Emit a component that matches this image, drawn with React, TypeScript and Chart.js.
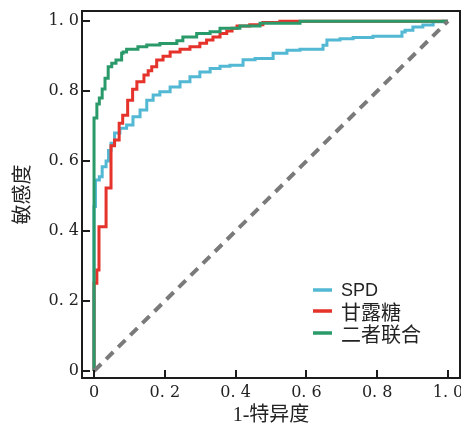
import React, { useEffect, useRef } from "react";
import { Chart, registerables } from "chart.js";

Chart.register(...registerables);

// ---- data ----
const seriesNames = ["SPD", "甘露糖", "二者联合"];
const seriesColors = ["#52B8D3", "#E5322A", "#2A9A6A"];

const fprSPD = [0, 0, 0.004, 0.015, 0.023, 0.034, 0.041, 0.048, 0.058, 0.073, 0.092, 0.11, 0.13, 0.149, 0.167, 0.186, 0.215, 0.243, 0.271, 0.299, 0.328, 0.356, 0.384, 0.421, 0.455, 0.506, 0.545, 0.582, 0.647, 0.658, 0.695, 0.732, 0.788, 0.87, 0.879, 0.901, 0.929, 0.958, 0.986, 1.0];
const tprSPD = [0, 0.42, 0.47, 0.546, 0.555, 0.584, 0.6, 0.63, 0.651, 0.68, 0.694, 0.703, 0.727, 0.746, 0.774, 0.789, 0.798, 0.812, 0.827, 0.841, 0.855, 0.865, 0.871, 0.874, 0.89, 0.893, 0.908, 0.917, 0.92, 0.931, 0.946, 0.95, 0.953, 0.957, 0.969, 0.974, 0.983, 0.989, 0.998, 1.0];

const fprMannose = [0, 0, 0.008, 0.014, 0.034, 0.048, 0.058, 0.071, 0.081, 0.095, 0.109, 0.121, 0.141, 0.153, 0.163, 0.177, 0.195, 0.215, 0.243, 0.271, 0.299, 0.318, 0.336, 0.356, 0.375, 0.39, 0.404, 0.44, 0.477, 0.525, 1.0];
const tprMannose = [0, 0.223, 0.251, 0.289, 0.412, 0.523, 0.644, 0.66, 0.708, 0.731, 0.774, 0.805, 0.827, 0.846, 0.858, 0.87, 0.889, 0.9, 0.912, 0.92, 0.927, 0.937, 0.946, 0.955, 0.965, 0.972, 0.98, 0.986, 0.99, 0.996, 1.0];

const fprCombined = [0, 0, 0.008, 0.015, 0.023, 0.031, 0.04, 0.05, 0.062, 0.078, 0.082, 0.092, 0.124, 0.149, 0.186, 0.234, 0.251, 0.29, 0.328, 0.356, 0.412, 0.469, 0.582, 0.695, 1.0];
const tprCombined = [0, 0.694, 0.723, 0.763, 0.78, 0.806, 0.837, 0.87, 0.88, 0.889, 0.908, 0.912, 0.92, 0.927, 0.932, 0.936, 0.944, 0.955, 0.965, 0.97, 0.98, 0.986, 0.994, 1.0, 1.0];

const refX = [0, 1];
const refY = [0, 1];

const tickValues = [0, 0.2, 0.4, 0.6, 0.8, 1.0];
const tickLabels = ["0", "0. 2", "0. 4", "0. 6", "0. 8", "1. 0"];

const xTitle = "1-特异度";
const yTitle = "敏感度";

const toPts = (xs: number[], ys: number[]) => xs.map((x, i) => ({ x, y: ys[i] }));

const framePlugin = {
  id: "frameTicksLegend",
  afterDatasetsDraw(chart: any) {
    const { ctx, chartArea } = chart;
    const { left, right, top, bottom } = chartArea;
    ctx.save();
    ctx.strokeStyle = "#1c1c1c";
    ctx.lineWidth = 2;
    ctx.strokeRect(left, top, right - left, bottom - top);
    // inward ticks
    const xs = chart.scales.x;
    const ys = chart.scales.y;
    ctx.beginPath();
    xs.ticks.forEach((t: any) => {
      const p = Math.round(xs.getPixelForValue(t.value));
      ctx.moveTo(p, bottom);
      ctx.lineTo(p, bottom - 8);
    });
    ys.ticks.forEach((t: any) => {
      const p = Math.round(ys.getPixelForValue(t.value));
      ctx.moveTo(left, p);
      ctx.lineTo(left + 8, p);
    });
    ctx.stroke();
    // legend
    const lx = right - 147;
    const rowY = [bottom - 88, bottom - 67, bottom - 45];
    seriesNames.forEach((name, i) => {
      ctx.strokeStyle = seriesColors[i];
      ctx.lineWidth = 3.5;
      ctx.beginPath();
      ctx.moveTo(lx, rowY[i]);
      ctx.lineTo(lx + 19, rowY[i]);
      ctx.stroke();
      ctx.fillStyle = "#222";
      ctx.textBaseline = "middle";
      ctx.textAlign = "left";
      ctx.font = i === 0
        ? '18px "Liberation Sans Narrow", "Liberation Sans", sans-serif'
        : '20px "Noto Sans CJK SC", sans-serif';
      ctx.fillText(name, lx + 28, rowY[i] + 1);
    });
    ctx.restore();
  },
};

const zeroPad = (s: any) => {
  s.paddingLeft = 0;
  s.paddingRight = 0;
  s.paddingTop = 0;
  s.paddingBottom = 0;
};

export default function App() {
  const ref = useRef<HTMLCanvasElement | null>(null);
  useEffect(() => {
    if (!ref.current) return;
    const chart = new Chart(ref.current, {
      type: "line",
      data: {
        datasets: [
          {
            label: "ref",
            data: toPts(refX, refY),
            borderColor: "#7a7a7a",
            borderWidth: 4,
            borderDash: [10, 7],
            pointRadius: 0,
            fill: false,
          },
          {
            label: seriesNames[2],
            data: toPts(fprCombined, tprCombined),
            borderColor: seriesColors[2],
            borderWidth: 3,
            stepped: "after",
            pointRadius: 0,
            fill: false,
          },
          {
            label: seriesNames[1],
            data: toPts(fprMannose, tprMannose),
            borderColor: seriesColors[1],
            borderWidth: 3,
            stepped: "after",
            pointRadius: 0,
            fill: false,
          },
          {
            label: seriesNames[0],
            data: toPts(fprSPD, tprSPD),
            borderColor: seriesColors[0],
            borderWidth: 3,
            stepped: "after",
            pointRadius: 0,
            fill: false,
          },
        ],
      },
      options: {
        animation: false,
        responsive: true,
        maintainAspectRatio: false,
        layout: { padding: { top: 11, right: 1, left: 0, bottom: 0 } },
        plugins: { legend: { display: false }, tooltip: { enabled: false } },
        scales: {
          x: {
            type: "linear",
            min: -0.034,
            max: 1.034,
            afterFit: (s: any) => { s.height = 57; zeroPad(s); },
            afterBuildTicks: (s: any) => { s.ticks = tickValues.map((v) => ({ value: v })); },
            grid: { display: false, drawTicks: false },
            border: { display: false },
            ticks: {
              padding: 5,
              color: "#222",
              font: { family: '"DejaVu Serif", serif', size: 16 },
              maxRotation: 0,
              autoSkip: false,
              callback: (v: any) => tickLabels[tickValues.indexOf(Number(v))] ?? "",
            },
            title: {
              display: true,
              text: xTitle,
              color: "#222",
              font: { family: '"Liberation Serif", "Noto Sans CJK SC", serif', size: 20 },
              padding: { top: 0, bottom: 7 },
            },
          },
          y: {
            type: "linear",
            min: -0.02,
            max: 1.029,
            afterFit: (s: any) => { s.width = 82; zeroPad(s); },
            afterBuildTicks: (s: any) => { s.ticks = tickValues.map((v) => ({ value: v })); },
            grid: { display: false, drawTicks: false },
            border: { display: false },
            ticks: {
              padding: 3,
              color: "#222",
              font: { family: '"DejaVu Serif", serif', size: 16 },
              autoSkip: false,
              callback: (v: any) => tickLabels[tickValues.indexOf(Number(v))] ?? "",
            },
            title: {
              display: true,
              text: yTitle,
              color: "#222",
              font: { family: '"Noto Sans CJK SC", sans-serif', size: 20 },
              padding: { top: 9, bottom: 0 },
            },
          },
        },
      },
      plugins: [framePlugin],
    });
    return () => chart.destroy();
  }, []);
  return (
    <div style={{ position: "absolute", left: 0, top: 0, width: 461, height: 435, background: "#fff" }}>
      <canvas ref={ref} />
    </div>
  );
}
